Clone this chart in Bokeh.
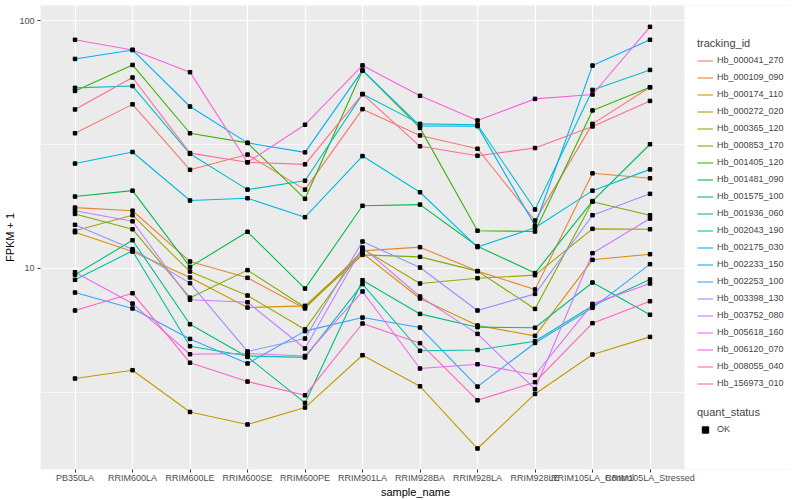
from bokeh.plotting import figure
from bokeh.models import Range1d, FixedTicker, Legend, LegendItem, NumeralTickFormatter, BoxAnnotation
from bokeh.embed import file_html
from bokeh.resources import INLINE

samples = ["PB350LA", "RRIM600LA", "RRIM600LE", "RRIM600SE", "RRIM600PE", "RRIM901LA",
           "RRIM928BA", "RRIM928LA", "RRIM928LE", "RRIM105LA_Control", "RRIM105LA_Stressed"]

tracking_ids = ["Hb_000041_270", "Hb_000109_090", "Hb_000174_110", "Hb_000272_020", "Hb_000365_120",
                "Hb_000853_170", "Hb_001405_120", "Hb_001481_090", "Hb_001575_100", "Hb_001936_060",
                "Hb_002043_190", "Hb_002175_030", "Hb_002233_150", "Hb_002253_100", "Hb_003398_130",
                "Hb_003752_080", "Hb_005618_160", "Hb_006120_070", "Hb_008055_040", "Hb_156973_010"]

colors = ["#F8766D", "#EA8331", "#D89000", "#C09B00", "#A3A500", "#7CAE00", "#39B600", "#00BB4E",
          "#00BF7D", "#00C1A3", "#00BFC4", "#00BAE0", "#00B0F6", "#35A2FF", "#9590FF", "#C77CFF",
          "#E76BF3", "#FA62DB", "#FF62BC", "#FF6C91"]

Hb_000041_270 = [35.1, 45.9, 25.0, 28.8, 20.8, 43.9, 34.4, 30.4, 15.6, 38.3, 53.8]
Hb_000109_090 = [17.6, 17.1, 10.67, 9.17, 6.9, 11.78, 12.19, 9.76, 8.23, 24.2, 23.1]
Hb_000174_110 = [14.0, 11.7, 9.2, 6.96, 7.07, 11.53, 7.57, 5.89, 5.35, 10.84, 11.42]
Hb_000272_020 = [3.6, 3.89, 2.64, 2.35, 2.75, 4.47, 3.35, 1.88, 3.12, 4.5, 5.3]
Hb_000365_120 = [14.2, 16.4, 9.72, 7.78, 5.68, 12.0, 8.7, 9.14, 9.4, 14.45, 14.4]
Hb_000853_170 = [16.6, 14.4, 7.63, 9.85, 6.98, 11.35, 11.14, 9.76, 6.87, 18.6, 16.4]
Hb_001405_120 = [52.0, 66.2, 35.1, 32.1, 19.1, 62.9, 36.9, 14.2, 14.1, 43.4, 53.8]
Hb_001481_090 = [19.5, 20.6, 10.15, 14.06, 8.3, 17.9, 18.1, 12.3, 9.58, 18.7, 31.7]
Hb_001575_100 = [9.43, 13.0, 5.96, 4.4, 2.87, 8.97, 6.56, 5.8, 5.77, 8.78, 6.51]
Hb_001936_060 = [9.0, 11.78, 4.86, 4.44, 4.38, 8.65, 4.66, 4.69, 5.09, 7.07, 9.03]
Hb_002043_190 = [53.5, 54.4, 29.0, 20.8, 22.6, 50.5, 38.3, 38.0, 17.3, 52.5, 63.2]
Hb_002175_030 = [26.5, 29.5, 18.8, 19.2, 16.1, 28.4, 20.3, 12.2, 14.6, 20.6, 25.1]
Hb_002233_150 = [70.0, 76.1, 45.0, 32.1, 29.4, 62.9, 37.6, 37.5, 14.9, 65.8, 83.6]
Hb_002253_100 = [8.0, 6.9, 5.2, 4.14, 5.59, 6.34, 5.78, 3.34, 5.01, 6.94, 10.41]
Hb_003398_130 = [15.0, 11.97, 8.73, 4.63, 5.22, 12.85, 10.09, 6.77, 7.9, 16.4, 20.0]
Hb_003752_080 = [17.1, 15.5, 7.48, 7.31, 4.76, 12.15, 7.71, 5.45, 3.26, 11.53, 15.9]
Hb_005618_160 = [9.66, 7.22, 4.51, 4.54, 4.44, 8.08, 3.95, 4.11, 3.72, 7.2, 8.7]
Hb_006120_070 = [83.6, 76.1, 61.9, 26.8, 38.0, 65.9, 49.7, 39.5, 48.3, 50.3, 94.3]
Hb_008055_040 = [6.77, 7.95, 4.17, 3.5, 3.08, 6.0, 5.0, 2.94, 3.48, 6.02, 7.38]
Hb_156973_010 = [43.8, 58.9, 29.2, 26.8, 26.3, 50.5, 31.1, 28.5, 30.6, 37.4, 47.4]

series = [Hb_000041_270, Hb_000109_090, Hb_000174_110, Hb_000272_020, Hb_000365_120,
          Hb_000853_170, Hb_001405_120, Hb_001481_090, Hb_001575_100, Hb_001936_060,
          Hb_002043_190, Hb_002175_030, Hb_002233_150, Hb_002253_100, Hb_003398_130,
          Hb_003752_080, Hb_005618_160, Hb_006120_070, Hb_008055_040, Hb_156973_010]

quant_status = ["OK"]

FONT = "Liberation Sans"
xs = list(range(1, len(samples) + 1))
X_LO, X_HI = 0.4, len(samples) + 0.6       # panel limits (discrete expansion)
PX_PER_UNIT = 57.5
FRAME_W = 750
PANEL_H = 464

p = figure(frame_width=FRAME_W, frame_height=PANEL_H, output_backend="svg", toolbar_location=None,
           y_axis_type="log",
           x_range=Range1d(X_LO, X_LO + FRAME_W / PX_PER_UNIT),
           y_range=Range1d(10 ** 0.1895, 10 ** 2.0605),
           min_border_left=40, min_border_right=0, min_border_top=5, min_border_bottom=0,
           background_fill_color="#EBEBEB", border_fill_color="white", outline_line_color=None)

# white area to the right of the panel (legend space)
p.add_layout(BoxAnnotation(left=X_HI, fill_color="white", fill_alpha=1.0, line_color=None,
                           level="underlay"))

# axes
p.xaxis.ticker = FixedTicker(ticks=xs)
p.xaxis.major_label_overrides = {x: s for x, s in zip(xs, samples)}
p.xaxis.bounds = (X_LO, X_HI)
p.yaxis.ticker = FixedTicker(ticks=[10, 100], minor_ticks=[10 ** 0.5, 10 ** 1.5])
p.yaxis.formatter = NumeralTickFormatter(format="0")
for ax in (p.xaxis, p.yaxis):
    ax.axis_line_color = None
    ax.major_tick_line_color = "#333333"
    ax.major_tick_out = 3
    ax.major_tick_in = 0
    ax.minor_tick_line_color = None
    ax.major_label_text_font = FONT
    ax.major_label_text_font_size = "9px"
    ax.major_label_text_color = "#4D4D4D"
    ax.axis_label_text_font = FONT
    ax.axis_label_text_font_size = "11px"
    ax.axis_label_text_font_style = "normal"
    ax.axis_label_text_color = "black"
p.xaxis.major_label_standoff = 0
p.xaxis.axis_label_standoff = 0
p.yaxis.major_label_standoff = 2
p.yaxis.axis_label_standoff = 0
p.xaxis.axis_label = "sample_name"
p.yaxis.axis_label = "FPKM + 1"

p.xgrid.grid_line_color = "white"
p.xgrid.grid_line_width = 1.2
p.ygrid.grid_line_color = "white"
p.ygrid.grid_line_width = 1.2
p.ygrid.minor_grid_line_color = "white"
p.ygrid.minor_grid_line_width = 0.6

items = []
for name, col, vals in zip(tracking_ids, colors, series):
    r = p.line(x=xs, y=vals, line_color=col, line_width=1.1)
    items.append(LegendItem(label=name, renderers=[r]))

px, py = [], []
for vals in series:
    px += xs
    py += vals
pts = p.scatter(x=px, y=py, marker="square", size=3.5, color="black")

def style(leg):
    leg.padding = 0
    leg.margin = 0
    leg.spacing = 0
    leg.glyph_height = 17
    leg.glyph_width = 16
    leg.label_height = 17
    leg.label_standoff = 4
    leg.label_text_font = FONT
    leg.label_text_font_size = "9px"
    leg.title_text_font = FONT
    leg.title_text_font_size = "11px"
    leg.title_text_font_style = "normal"
    leg.title_standoff = 3
    leg.border_line_color = None
    leg.background_fill_alpha = 0

LEG_X = 657
leg1 = Legend(items=items, title="tracking_id", location=(LEG_X, 77.5))
style(leg1)
p.add_layout(leg1)

leg2 = Legend(items=[LegendItem(label=quant_status[0], renderers=[pts])], title="quant_status",
              location=(LEG_X, 31.5))
style(leg2)
p.add_layout(leg2)

open("out.html", "w").write(file_html(p, INLINE))
